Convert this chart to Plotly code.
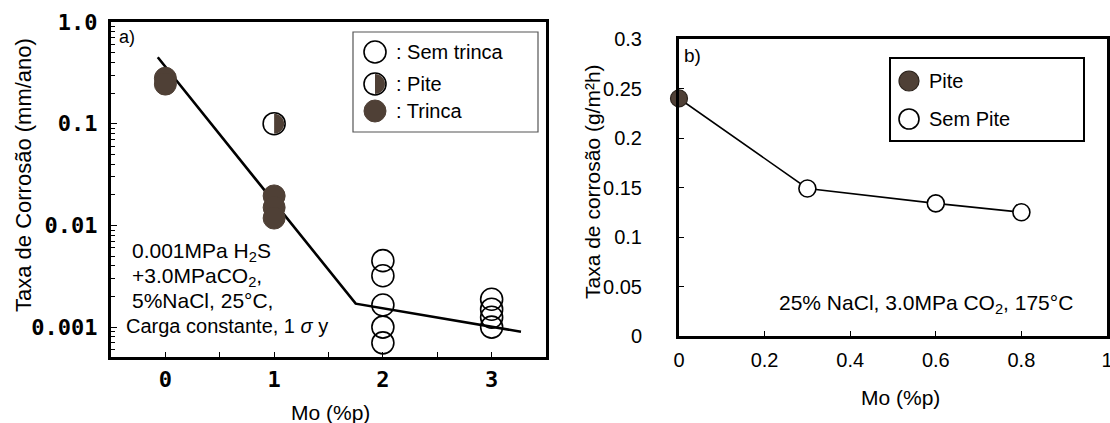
import plotly.graph_objects as go

# ---------------- data ----------------
# Panel a): corrosion rate (mm/ano, log scale) vs Mo content
mo_sem_trinca = [2, 2, 2, 2, 2, 3, 3, 3, 3]
taxa_sem_trinca = [0.0045, 0.0032, 0.00165, 0.00100, 0.00070,
                   0.00188, 0.00150, 0.00125, 0.00100]
mo_pite_a = [1]
taxa_pite_a = [0.1]
mo_trinca = [0, 0, 1, 1, 1]
taxa_trinca = [0.28, 0.245, 0.0195, 0.0150, 0.0118]
mo_tendencia = [-0.07, 1.75, 3.27]
taxa_tendencia = [0.45, 0.0017, 0.0009]

# Panel b): corrosion rate (g/m²h) vs Mo content
mo_b = [0, 0.3, 0.6, 0.8]
taxa_b = [0.24, 0.149, 0.134, 0.125]
pite_b = [True, False, False, False]

# tick labels
ticks_a_y = [1, 0.1, 0.01, 0.001]
ticktext_a_y = ["1.0", "0.1", "0.01", "0.001"]
ticks_a_x = [0, 1, 2, 3]

# ---------------- style ----------------
W, H = 1110, 423
BROWN = "#4f4036"
BROWN_EDGE = "#2c231c"
SANS = "Liberation Sans, Arial, sans-serif"
MONO = "DejaVu Sans Mono, monospace"


def px(x, y):
    """pixel position on the page -> paper coordinates"""
    return x / W, 1 - y / H


def half_disk(r):
    """right half of a disk, as a pixel path centred on its anchor"""
    k = 0.5523 * r
    return (f"M 0,{-r} C {k},{-r} {r},{-k} {r},0 "
            f"C {r},{k} {k},{r} 0,{r} Z")


fig = go.Figure()

# ---- panel a) ----
fig.add_trace(go.Scatter(
    x=mo_tendencia, y=taxa_tendencia, mode="lines",
    line=dict(color="black", width=2.6), xaxis="x", yaxis="y",
    showlegend=False, hoverinfo="skip"))
fig.add_trace(go.Scatter(
    x=mo_trinca, y=taxa_trinca, mode="markers", name=": Trinca",
    marker=dict(size=22, color=BROWN, line=dict(color=BROWN, width=1)),
    xaxis="x", yaxis="y", showlegend=False))
fig.add_trace(go.Scatter(
    x=mo_sem_trinca, y=taxa_sem_trinca, mode="markers", name=": Sem trinca",
    marker=dict(size=22, symbol="circle-open", color="black",
                line=dict(color="black", width=1.6)),
    xaxis="x", yaxis="y", showlegend=False))
fig.add_trace(go.Scatter(
    x=mo_pite_a, y=taxa_pite_a, mode="markers", name=": Pite",
    marker=dict(size=22, color="white", line=dict(color="black", width=1.6)),
    xaxis="x", yaxis="y", showlegend=False))

# ---- panel b) ----
fig.add_trace(go.Scatter(
    x=mo_b, y=taxa_b, mode="lines", line=dict(color="black", width=1.6),
    xaxis="x2", yaxis="y2", showlegend=False, hoverinfo="skip",
    cliponaxis=False))
fig.add_trace(go.Scatter(
    x=[m for m, p in zip(mo_b, pite_b) if p],
    y=[t for t, p in zip(taxa_b, pite_b) if p],
    mode="markers", name="Pite",
    marker=dict(size=17, color=BROWN, line=dict(color=BROWN_EDGE, width=1.2)),
    xaxis="x2", yaxis="y2", showlegend=False, cliponaxis=False))
fig.add_trace(go.Scatter(
    x=[m for m, p in zip(mo_b, pite_b) if not p],
    y=[t for t, p in zip(taxa_b, pite_b) if not p],
    mode="markers", name="Sem Pite",
    marker=dict(size=17, color="white", line=dict(color="black", width=1.6)),
    xaxis="x2", yaxis="y2", showlegend=False, cliponaxis=False))

shapes = []
# half-filled "Pite" markers of panel a)
for xv, yv in zip(mo_pite_a, taxa_pite_a):
    shapes.append(dict(type="path", xref="x", yref="y",
                       xsizemode="pixel", ysizemode="pixel",
                       xanchor=xv, yanchor=yv, path=half_disk(10),
                       fillcolor=BROWN, line=dict(width=0), layer="above"))

# legend box of panel a)
x0, y1 = px(353, 32)
x1, y0 = px(538, 132)
shapes.append(dict(type="rect", xref="paper", yref="paper",
                   x0=x0, x1=x1, y0=y0, y1=y1,
                   line=dict(color="#555555", width=1.2), layer="above"))


def key_circle(cx, cy, r, fill, edge, width):
    ax, ay = px(cx, cy)
    return dict(type="circle", xref="paper", yref="paper",
                xsizemode="pixel", ysizemode="pixel", xanchor=ax, yanchor=ay,
                x0=-r, x1=r, y0=-r, y1=r, fillcolor=fill,
                line=dict(color=edge, width=width), layer="above")


shapes.append(key_circle(375, 52, 11, "white", "black", 1.6))
shapes.append(key_circle(375, 84, 11, "white", "black", 1.6))
ax_, ay_ = px(375, 84)
shapes.append(dict(type="path", xref="paper", yref="paper",
                   xsizemode="pixel", ysizemode="pixel",
                   xanchor=ax_, yanchor=ay_, path=half_disk(10),
                   fillcolor=BROWN, line=dict(width=0), layer="above"))
shapes.append(key_circle(375, 111, 11, BROWN, BROWN, 1))

# legend box of panel b)
x0, y1 = px(890, 58)
x1, y0 = px(1084, 141)
shapes.append(dict(type="rect", xref="paper", yref="paper",
                   x0=x0, x1=x1, y0=y0, y1=y1,
                   line=dict(color="black", width=2), layer="above"))
shapes.append(key_circle(909, 81, 10, BROWN, BROWN_EDGE, 1.2))
shapes.append(key_circle(909, 119, 10, "white", "black", 1.6))


def text(x, y, s, size=21, xanchor="left", angle=0, family=SANS):
    ax, ay = px(x, y)
    return dict(x=ax, y=ay, xref="paper", yref="paper", text=s,
                showarrow=False, xanchor=xanchor, yanchor="middle",
                textangle=angle, font=dict(family=family, size=size,
                                           color="black"))


annotations = [
    text(117, 37, "a)", 18),
    text(394, 52, ": Sem trinca", 20),
    text(394, 84, ": Pite", 20),
    text(394, 111, ": Trinca", 20),
    text(130, 252, "0.001MPa H<sub>2</sub>S", 21),
    text(130, 277, "+3.0MPaCO<sub>2</sub>,", 21),
    text(130, 300, "5%NaCl, 25°C,", 21),
    text(124, 326, "Carga constante, 1 <i>σ</i> y", 20),
    text(330, 412, "Mo (%p)", 21, xanchor="center"),
    text(23, 175, "Taxa de Corrosão (mm/ano)", 22, xanchor="center",
         angle=-90),
    text(682, 56, "b)", 19),
    text(927, 81, "Pite", 20),
    text(927, 119, "Sem Pite", 20),
    text(777, 304, "25% NaCl, 3.0MPa CO<sub>2</sub>, 175°C", 21),
    text(900, 397, "Mo (%p)", 21, xanchor="center"),
    text(593, 182, "Taxa de corrosão (g/m²h)", 21, xanchor="center",
         angle=-90),
]

minor_log = [m * 10 ** e for e in range(-4, 0) for m in range(2, 10)]

axis_common = dict(showline=True, linecolor="black", linewidth=3, mirror=True,
                   showgrid=False, zeroline=False, ticks="inside",
                   tickcolor="black", tickwidth=1.2, automargin=False)

fig.update_layout(
    width=W, height=H, autosize=False,
    margin=dict(l=0, r=0, t=0, b=0, pad=0, autoexpand=False),
    paper_bgcolor="white", plot_bgcolor="white",
    showlegend=False,
    xaxis=dict(**axis_common, domain=[111 / W, 546 / W], anchor="y",
               range=[-0.5, 3.5], tickvals=ticks_a_x, ticklen=5,
               minor=dict(tickvals=[0.5, 1.5, 2.5], ticks="inside",
                          ticklen=5, tickcolor="black"),
               tickfont=dict(family=MONO, size=22, color="black",
                             weight="bold"),
               ticklabelstandoff=1),
    yaxis=dict(**axis_common, domain=[1 - 357 / H, 1 - 22 / H], anchor="x",
               type="log", range=[-3.294, 0], tickvals=ticks_a_y,
               ticktext=ticktext_a_y, ticklen=6,
               minor=dict(tickvals=minor_log, ticks="inside", ticklen=4,
                          tickcolor="black"),
               tickfont=dict(family=MONO, size=22, color="black",
                             weight="bold"),
               ticklabelstandoff=6),
    xaxis2=dict(**axis_common, domain=[679 / W, 1107 / W], anchor="y2",
                range=[0, 1], dtick=0.2, tick0=0, ticklen=5,
                tickfont=dict(family=SANS, size=20, color="black"),
                ticklabelstandoff=4, ticklabeloverflow="allow"),
    yaxis2=dict(**axis_common, domain=[1 - 336 / H, 1 - 39 / H], anchor="x2",
                range=[0, 0.3], dtick=0.05, tick0=0, ticklen=5,
                tickfont=dict(family=SANS, size=20, color="black"),
                ticklabelstandoff=30),
    shapes=shapes,
    annotations=annotations,
)

fig.write_html("out.html")
